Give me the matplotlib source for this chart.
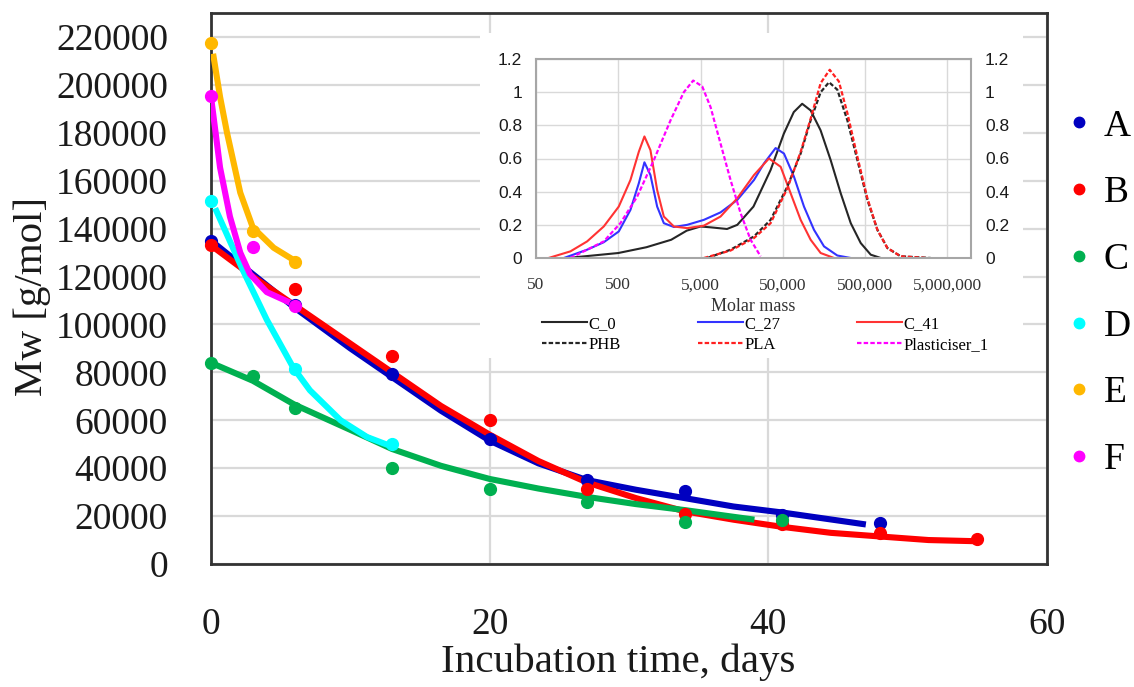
import numpy as np
import matplotlib.pyplot as plt
from matplotlib.lines import Line2D
from matplotlib.ticker import FixedLocator, NullLocator

plt.rcParams['font.family'] = ['Liberation Serif', 'DejaVu Serif']

# Data of the main chart (Mw vs incubation time)
labels = ['A', 'B', 'C', 'D', 'E', 'F']
colors = ['#0000c0', '#ff0000', '#00b050', '#00ffff', '#ffb800', '#ff00ff']

a_days = [0, 6, 13, 20, 27, 34, 41, 48]
a_mw = [135000, 108000, 79500, 52000, 35000, 30500, 20500, 17000]
b_days = [0, 6, 13, 20, 27, 34, 41, 48, 55]
b_mw = [133000, 115000, 87000, 60000, 31500, 21000, 16500, 13000, 10500]
c_days = [0, 3, 6, 13, 20, 27, 34, 41]
c_mw = [84000, 78500, 65000, 40000, 31500, 26000, 17500, 18500]
d_days = [0, 6, 13]
d_mw = [151500, 81500, 50000]
e_days = [0, 3, 6]
e_mw = [217500, 139000, 126000]
f_days = [0, 3, 6]
f_mw = [195500, 132500, 107500]

# trend lines
a_fit_days = [0, 3, 6, 10, 13, 16.5, 20, 23.5, 27, 30.5, 34, 37.5, 41, 44, 47]
a_fit_mw = [135000, 121000, 107000, 90000, 78000, 64000, 51500, 42000, 35000,
            31000, 27500, 24000, 21500, 19000, 16500]
b_fit_days = [0, 3, 6, 10, 13, 16.5, 20, 23.5, 27, 30.5, 34, 37.5, 41, 44.5, 48, 51.5, 55]
b_fit_mw = [133000, 120000, 108000, 92000, 80000, 66000, 54000, 43000, 34000,
            27500, 22000, 18500, 15500, 13000, 11500, 10000, 9500]
c_fit_days = [0, 3, 6, 10, 13, 16.5, 20, 23.5, 27, 30.5, 34, 39]
c_fit_mw = [84000, 76500, 66500, 56000, 48000, 41000, 35500, 31500, 28000, 25000, 22500, 18500]
d_fit_days = [0.3, 2.3, 4, 5.9, 7.1, 9.3, 11.2, 13]
d_fit_mw = [148500, 122500, 102000, 82000, 72500, 60000, 53000, 49000]
e_fit_days = [0.15, 0.65, 1.15, 2.1, 3, 4.5, 5.9]
e_fit_mw = [213000, 195000, 180000, 155000, 140500, 132000, 127000]
f_fit_days = [0, 0.65, 1.36, 2.1, 2.8, 4.0, 5.9]
f_fit_mw = [195000, 165500, 145000, 130000, 121000, 113500, 108500]

# Data of the inset (molar mass distributions)
c0_m = [120, 500, 1100, 2200, 3400, 5000, 6600, 10500, 14000, 22000, 35500, 51500,
        68000, 86000, 109000, 144000, 191000, 253000, 335000, 443000, 586000, 776000]
c0_w = [0, 0.03, 0.065, 0.11, 0.165, 0.19, 0.185, 0.175, 0.2, 0.31, 0.53, 0.75,
        0.88, 0.93, 0.89, 0.77, 0.59, 0.39, 0.21, 0.09, 0.02, 0]
c27_m = [109, 209, 333, 507, 703, 888, 1040, 1231, 1485, 1790, 2370, 3443, 5490, 8750,
         13970, 22300, 29500, 40900, 51650, 68390, 90500, 119700, 158500, 230000, 335000]
c27_w = [0, 0.05, 0.095, 0.16, 0.29, 0.45, 0.577, 0.50, 0.31, 0.21, 0.187, 0.2, 0.23, 0.275,
         0.35, 0.47, 0.57, 0.663, 0.63, 0.49, 0.31, 0.17, 0.07, 0.015, 0]
c41_m = [71, 131, 209, 333, 507, 703, 888, 1040, 1231, 1485, 1790, 2370, 3443, 5490, 8750,
         13970, 22300, 33950, 47100, 62300, 82400, 109000, 144300, 210000]
c41_w = [0, 0.04, 0.10, 0.19, 0.31, 0.47, 0.64, 0.733, 0.65, 0.41, 0.25, 0.19, 0.18, 0.195,
         0.25, 0.36, 0.50, 0.60, 0.55, 0.39, 0.23, 0.11, 0.03, 0]
phb_m = [6030, 11590, 22300, 35560, 56750, 82400, 109000, 144300, 182400, 230000, 304800,
         403600, 534000, 706000, 935000, 1358000, 3150000]
phb_w = [0, 0.05, 0.13, 0.23, 0.43, 0.63, 0.83, 1.0, 1.06, 1.015, 0.83, 0.59, 0.35, 0.17,
         0.06, 0.01, 0]
pla_m = [5500, 11590, 22300, 35560, 56750, 82400, 109000, 144300, 186000, 240000, 304800,
         403600, 534000, 706000, 935000, 1358000, 2900000]
pla_w = [0, 0.045, 0.12, 0.21, 0.42, 0.64, 0.84, 1.055, 1.135, 1.065, 0.874, 0.61, 0.36,
         0.17, 0.06, 0.01, 0]
pl1_m = [131, 333, 531, 848, 1352, 2158, 3133, 4070, 5240, 6620, 8750, 11590, 15350,
         20300, 26870]
pl1_w = [0, 0.10, 0.21, 0.37, 0.59, 0.83, 1.0, 1.07, 1.035, 0.91, 0.69, 0.47, 0.27, 0.11, 0.01]

fig = plt.figure(figsize=(11.34, 6.87), dpi=100)
ax = fig.add_axes([211 / 1134, 1 - 564 / 687, 836 / 1134, 551 / 687])

pts = [(a_days, a_mw), (b_days, b_mw), (c_days, c_mw), (d_days, d_mw), (e_days, e_mw), (f_days, f_mw)]
fits = [(a_fit_days, a_fit_mw), (b_fit_days, b_fit_mw), (c_fit_days, c_fit_mw),
        (d_fit_days, d_fit_mw), (e_fit_days, e_fit_mw), (f_fit_days, f_fit_mw)]
for (xd, yd), (xf, yf), col in zip(pts, fits, colors):
    ax.plot(xf, yf, color=col, lw=4.4, solid_capstyle='butt', solid_joinstyle='round', zorder=3)
    ax.plot(xd, yd, 'o', color=col, ms=8.5, zorder=4, clip_on=False)

ax.set_xlim(0, 60)
ax.set_ylim(0, 230000)
ax.set_xticks([0, 20, 40, 60])
ax.set_yticks(np.arange(0, 220001, 20000))
ax.tick_params(axis='x', length=0, pad=31, labelsize=27, colors='#1a1a1a')
ax.tick_params(axis='y', length=0, pad=31, labelsize=27, colors='#1a1a1a')
ax.grid(True, color='#d9d9d9', lw=1.6)
ax.set_axisbelow(True)
for s in ax.spines.values():
    s.set_color('#333333')
    s.set_linewidth(2)

fig.text(618 / 1134, 1 - 662 / 687, 'Incubation time, days', ha='center', va='center',
         fontsize=29.5, color='#1a1a1a')
fig.text(32 / 1134, 1 - 297 / 687, 'Mw [g/mol]', ha='center', va='center', rotation=90,
         fontsize=29.5, color='#1a1a1a')

handles = [Line2D([], [], ls='none', marker='o', color=c, ms=7.5) for c in colors]
fig.legend(handles, labels, loc='upper left', bbox_to_anchor=(1066 / 1134, 1 - 109 / 687),
           frameon=False, fontsize=27, handlelength=0.7, handletextpad=0.3,
           labelspacing=0.86, borderpad=0, borderaxespad=0)

# white box behind the inset
bg = fig.add_axes([480 / 1134, 1 - 358 / 687, 543 / 1134, 325 / 687])
bg.set_facecolor('white')
bg.set_xticks([])
bg.set_yticks([])
for s in bg.spines.values():
    s.set_visible(False)

ins = fig.add_axes([536 / 1134, 1 - 258 / 687, 435 / 1134, 199 / 687])
l_c0, = ins.plot(c0_m, c0_w, color='#262626', lw=1.5, label='C_0')
l_c27, = ins.plot(c27_m, c27_w, color='#3333ff', lw=1.5, label='C_27')
l_c41, = ins.plot(c41_m, c41_w, color='#ff3333', lw=1.5, label='C_41')
l_phb, = ins.plot(phb_m, phb_w, color='#262626', lw=1.6, ls=(0, (2, 1)), label='PHB')
l_pla, = ins.plot(pla_m, pla_w, color='#ff2020', lw=1.6, ls=(0, (2, 1)), label='PLA')
l_pl1, = ins.plot(pl1_m, pl1_w, color='#ff00ff', lw=1.6, ls=(0, (2, 1)), label='Plasticiser_1')
ins.set_xscale('log')
ins.set_xlim(50, 9.7e6)
ins.set_ylim(0, 1.2)
ins.xaxis.set_major_locator(FixedLocator([50, 500, 5000, 50000, 500000, 5000000]))
ins.xaxis.set_minor_locator(NullLocator())
ins.set_xticklabels(['50', '500', '5,000', '50,000', '500,000', '5,000,000'])
ins.set_yticks([0, 0.2, 0.4, 0.6, 0.8, 1.0, 1.2])
ins.set_yticklabels(['0', '0.2', '0.4', '0.6', '0.8', '1', '1.2'])
ins.tick_params(axis='x', length=0, pad=14, labelsize=12.5, colors='#333333')
ins.tick_params(axis='y', length=0, pad=10, labelsize=12.5, colors='#1a1a1a',
                labelright=True)
for t in ins.yaxis.get_major_ticks():
    t.label1.set_family(['Liberation Sans', 'DejaVu Sans'])
    t.label2.set_family(['Liberation Sans', 'DejaVu Sans'])
ins.grid(True, color='#d9d9d9', lw=1.0)
ins.set_axisbelow(True)
for s in ins.spines.values():
    s.set_color('#a6a6a6')
    s.set_linewidth(1.5)
ins.set_xlabel('Molar mass', fontsize=13, color='#333333', labelpad=3)
# row-major order for a 3-column legend
order = [l_c0, l_phb, l_c27, l_pla, l_c41, l_pl1]
ins.legend(order, [h.get_label() for h in order], loc='upper left',
           bbox_to_anchor=(542 / 1134, 1 - 316 / 687),
           bbox_transform=fig.transFigure, ncol=3, frameon=False, fontsize=12,
           handlelength=2.7, handletextpad=0.1, columnspacing=4.6,
           labelspacing=0.3, borderpad=0, borderaxespad=0)

fig.savefig('out.png', dpi=100)
